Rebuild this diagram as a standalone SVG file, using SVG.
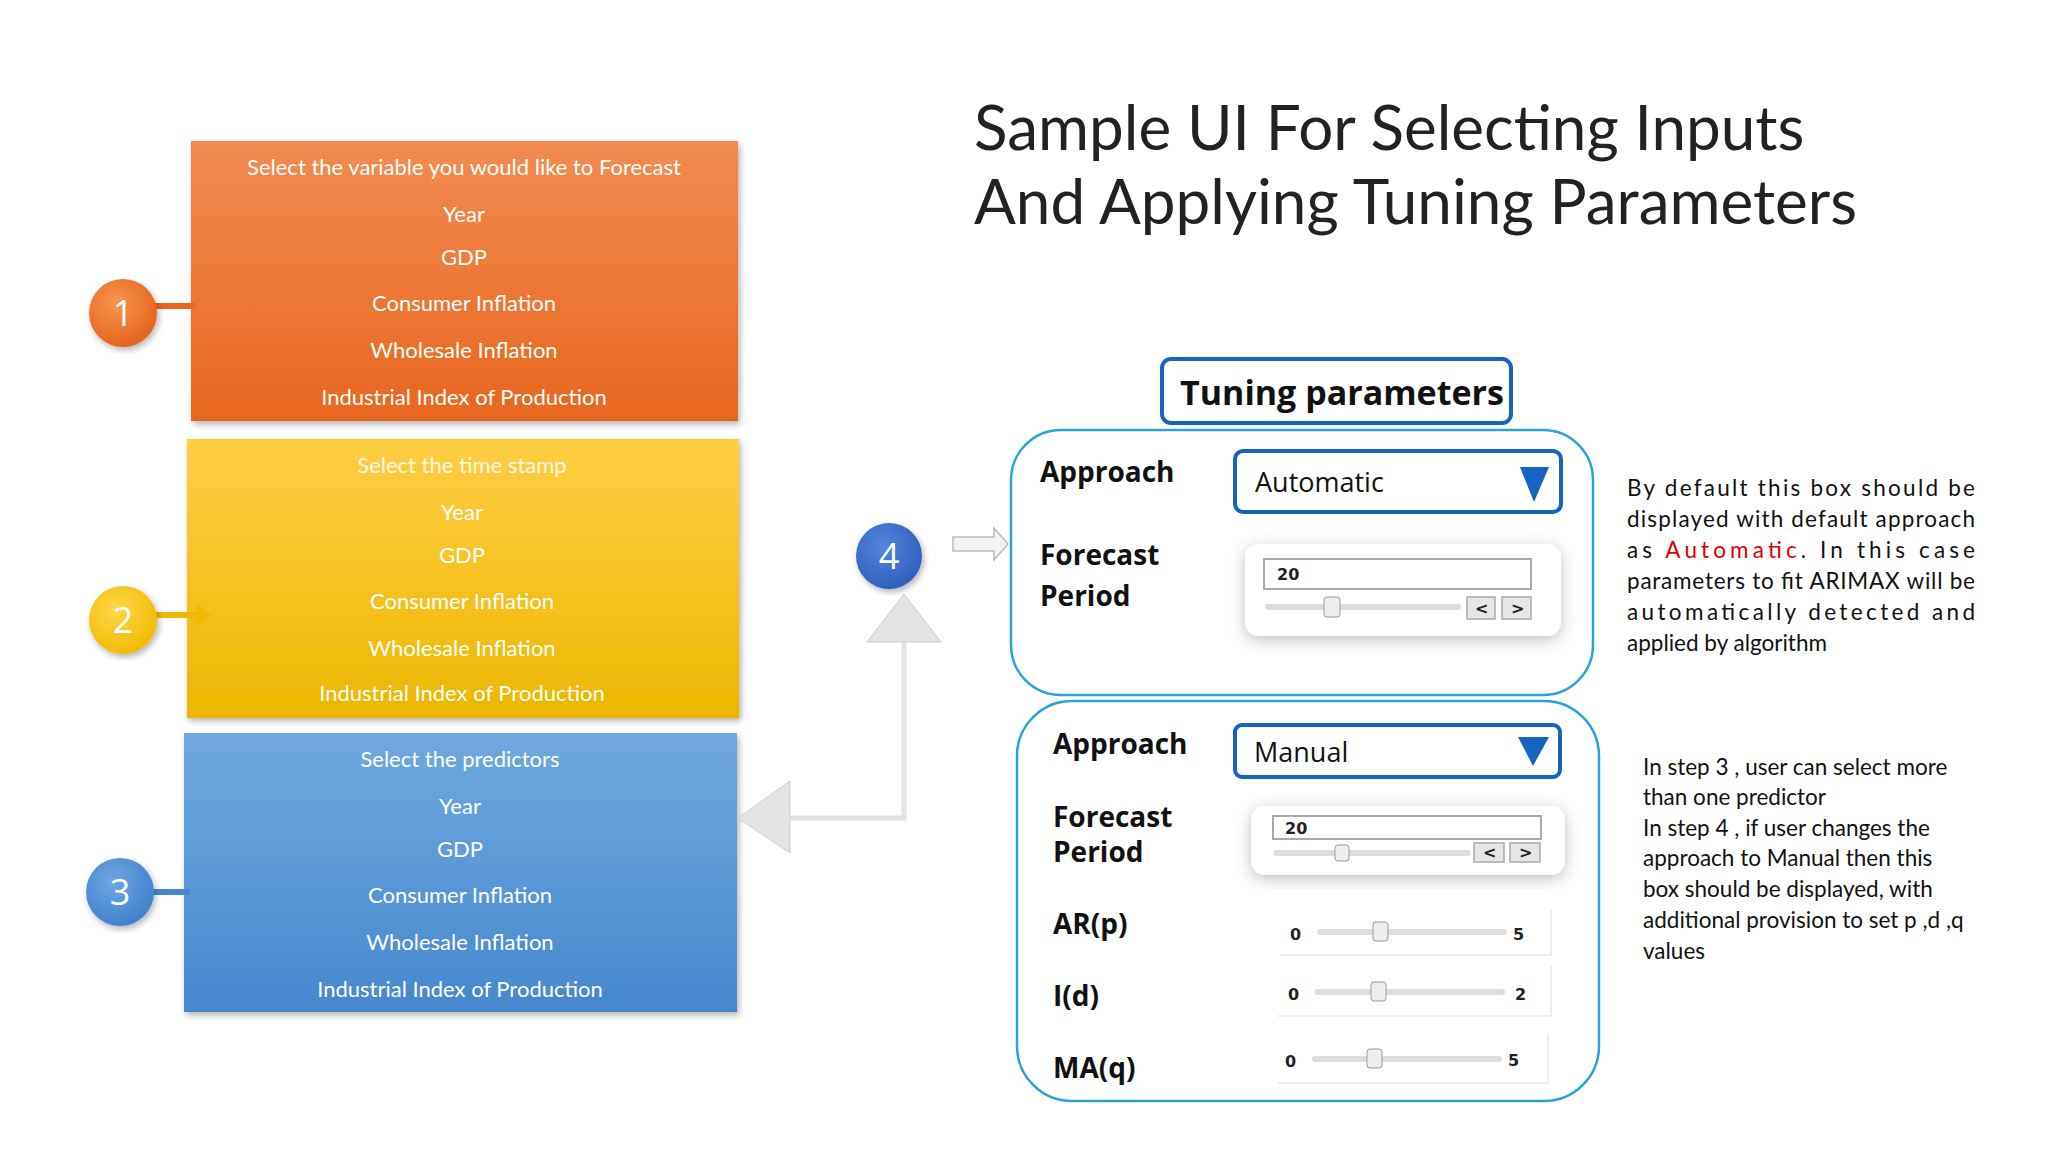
<svg xmlns="http://www.w3.org/2000/svg" width="2048" height="1152" viewBox="0 0 2048 1152">
<defs>
<linearGradient id="gO" x1="0" y1="0" x2="0" y2="1"><stop offset="0" stop-color="#F28C52"/><stop offset="1" stop-color="#E8661F"/></linearGradient>
<linearGradient id="gY" x1="0" y1="0" x2="0" y2="1"><stop offset="0" stop-color="#FFCE45"/><stop offset="1" stop-color="#ECB700"/></linearGradient>
<linearGradient id="gB" x1="0" y1="0" x2="0" y2="1"><stop offset="0" stop-color="#70A9DE"/><stop offset="1" stop-color="#4787CE"/></linearGradient>
<radialGradient id="cO" cx="0.4" cy="0.35" r="0.7"><stop offset="0" stop-color="#F8974F"/><stop offset="1" stop-color="#E2601A"/></radialGradient>
<radialGradient id="cY" cx="0.4" cy="0.35" r="0.7"><stop offset="0" stop-color="#FFD84A"/><stop offset="1" stop-color="#F0B800"/></radialGradient>
<radialGradient id="cB" cx="0.4" cy="0.35" r="0.7"><stop offset="0" stop-color="#6FA6DF"/><stop offset="1" stop-color="#3D7FCC"/></radialGradient>
<radialGradient id="cD" cx="0.4" cy="0.35" r="0.7"><stop offset="0" stop-color="#5585DA"/><stop offset="1" stop-color="#2D5DBC"/></radialGradient>
<filter id="sh" x="-10%" y="-10%" width="120%" height="120%"><feDropShadow dx="2" dy="3" stdDeviation="3" flood-color="#000" flood-opacity="0.3"/></filter>
<filter id="ws" x="-10%" y="-20%" width="120%" height="140%"><feDropShadow dx="0" dy="4" stdDeviation="8" flood-color="#000" flood-opacity="0.25"/></filter>
</defs>
<style>
.bt{font-family:Lato,"Open Sans",sans-serif;font-size:22px;fill:#fff;text-anchor:middle}
.num{font-family:"Open Sans",sans-serif;font-size:36px;fill:#fff;text-anchor:middle}
.lbl{font-family:"Open Sans",sans-serif;font-weight:bold;font-size:28px;fill:#111}
.dd{font-family:"Open Sans",sans-serif;font-size:27px;fill:#111}
.sm{font-family:"DejaVu Sans",sans-serif;font-weight:bold;font-size:16px;fill:#222}
.para{font-family:Lato,"Open Sans",sans-serif;font-size:22.5px;fill:#111}
.panel{fill:#fff;stroke:#29A3D8;stroke-width:2.5}
.ddb{fill:#fff;stroke:#1565C0;stroke-width:4}
.track{stroke:#ddd;stroke-width:6;stroke-linecap:round}
.tick{stroke:#bbb;stroke-width:1.5}
.btn{fill:#e6e6e6;stroke:#aaa;stroke-width:1.5}
.stub{stroke-width:6}
</style>
<text x="974" y="150" font-family="Lato,'Open Sans',sans-serif" font-size="62" fill="#222">Sample UI For Selecting Inputs</text>
<text x="974" y="224" font-family="Lato,'Open Sans',sans-serif" font-size="62" fill="#222">And Applying Tuning Parameters</text>

<g id="box1"><rect x="191" y="141" width="547" height="280" fill="url(#gO)" filter="url(#sh)"/>
<text class="bt" x="464" y="175">Select the variable you would like to Forecast</text>
<text class="bt" x="464" y="222">Year</text><text class="bt" x="464" y="265">GDP</text>
<text class="bt" x="464" y="311">Consumer Inflation</text><text class="bt" x="464" y="358">Wholesale Inflation</text>
<text class="bt" x="464" y="405">Industrial Index of Production</text></g>
<g id="box2"><rect x="187" y="439" width="552" height="279" fill="url(#gY)" filter="url(#sh)"/>
<text class="bt" x="462" y="473" fill-opacity="0.9">Select the time stamp</text>
<text class="bt" x="462" y="520">Year</text><text class="bt" x="462" y="563">GDP</text>
<text class="bt" x="462" y="609">Consumer Inflation</text><text class="bt" x="462" y="656">Wholesale Inflation</text>
<text class="bt" x="462" y="701">Industrial Index of Production</text></g>
<g id="box3"><rect x="184" y="733" width="553" height="279" fill="url(#gB)" filter="url(#sh)"/>
<text class="bt" x="460" y="767">Select the predictors</text>
<text class="bt" x="460" y="814">Year</text><text class="bt" x="460" y="857">GDP</text>
<text class="bt" x="460" y="903">Consumer Inflation</text><text class="bt" x="460" y="950">Wholesale Inflation</text>
<text class="bt" x="460" y="997">Industrial Index of Production</text></g>

<g id="connectors">
<line x1="150" y1="306" x2="196" y2="306" stroke="#E8661F" class="stub"/>
<path d="M150 615 H200 M196 606 L206 615 L196 624" stroke="#F0B800" class="stub" fill="none"/>
<line x1="148" y1="892" x2="190" y2="892" stroke="#4787CE" class="stub"/>
<path d="M790 818 H904 V640" fill="none" stroke="#e2e2e2" stroke-width="5"/>
<polygon points="738,818 790,781 790,853" fill="#e4e4e4" stroke="#ccc" stroke-width="1"/>
<polygon points="904,594 867,642 941,642" fill="#e4e4e4" stroke="#ccc" stroke-width="1"/>
<polygon points="953,537 994,537 994,528 1008,544 994,560 994,551 953,551" fill="#f2f2f2" stroke="#bbb" stroke-width="1.5"/>
</g>

<g id="n1"><circle cx="123" cy="313" r="34" fill="url(#cO)" filter="url(#sh)"/><text class="num" x="123" y="326">1</text></g>
<g id="n2"><circle cx="123" cy="620" r="34" fill="url(#cY)" filter="url(#sh)"/><text class="num" x="123" y="633" fill="#222">2</text></g>
<g id="n3"><circle cx="120" cy="892" r="34" fill="url(#cB)" filter="url(#sh)"/><text class="num" x="120" y="905">3</text></g>
<g id="n4"><circle cx="889" cy="556" r="33" fill="url(#cD)" filter="url(#sh)"/><text class="num" x="889" y="569">4</text></g>

<g id="title"><rect x="1162" y="359" width="349" height="64" rx="9" fill="#fff" stroke="#1565C0" stroke-width="4"/>
<text x="1180" y="405" font-family="'Open Sans',sans-serif" font-weight="bold" font-size="34" fill="#111">Tuning parameters</text></g>

<g id="panel1"><rect class="panel" x="1011" y="430" width="582" height="265" rx="50"/>
<text class="lbl" x="1040" y="482">Approach</text>
<rect class="ddb" x="1235" y="451" width="326" height="61" rx="8"/>
<text class="dd" x="1255" y="492">Automatic</text>
<polygon points="1520,467 1549,467 1534,502" fill="#1565C0"/>
<text class="lbl" x="1040" y="565">Forecast</text><text class="lbl" x="1040" y="606">Period</text>
<rect x="1245" y="544" width="316" height="92" rx="14" fill="#fff" filter="url(#ws)"/>
<rect x="1264" y="559" width="267" height="30" fill="#fff" stroke="#aaa" stroke-width="2"/>
<text class="sm" x="1277" y="580">20</text>
<line class="track" x1="1268" y1="607" x2="1458" y2="607"/>
<rect x="1324" y="597" width="16" height="20" rx="3" fill="#eee" stroke="#999"/>
<rect class="btn" x="1467" y="597" width="28" height="22"/><rect class="btn" x="1502" y="597" width="29" height="22"/>
<text class="sm" x="1475" y="614">&lt;</text><text class="sm" x="1511" y="614">&gt;</text>
</g>

<g id="panel2"><rect class="panel" x="1017" y="701" width="582" height="400" rx="55"/>
<text class="lbl" x="1053" y="754">Approach</text>
<rect class="ddb" x="1235" y="725" width="325" height="52" rx="7"/>
<text class="dd" x="1254" y="762">Manual</text>
<polygon points="1518,737 1549,737 1533,766" fill="#1565C0"/>
<text class="lbl" x="1053" y="827">Forecast</text><text class="lbl" x="1053" y="862">Period</text>
<rect x="1251" y="806" width="314" height="69" rx="14" fill="#fff" filter="url(#ws)"/>
<rect x="1273" y="816" width="268" height="23" fill="#fff" stroke="#aaa" stroke-width="2"/>
<text class="sm" x="1285" y="834" font-size="14">20</text>
<line class="track" x1="1276" y1="853" x2="1468" y2="853"/>
<rect x="1335" y="845" width="14" height="16" rx="3" fill="#eee" stroke="#999"/>
<rect class="btn" x="1474" y="843" width="30" height="19"/><rect class="btn" x="1510" y="843" width="30" height="19"/>
<text class="sm" x="1483" y="858" font-size="14">&lt;</text><text class="sm" x="1519" y="858" font-size="14">&gt;</text>
<text class="lbl" x="1053" y="934">AR(p)</text>
<text class="lbl" x="1053" y="1006">I(d)</text>
<text class="lbl" x="1053" y="1078">MA(q)</text>
<g><path d="M1551 910 V955 H1280" fill="none" stroke="#eee" stroke-width="2"/>
<text class="sm" x="1290" y="940">0</text><line class="track" x1="1320" y1="932" x2="1504" y2="932"/>
<rect x="1373" y="922" width="15" height="19" rx="3" fill="#eee" stroke="#999"/><text class="sm" x="1513" y="940">5</text></g>
<g><path d="M1551 966 V1016 H1278" fill="none" stroke="#eee" stroke-width="2"/>
<text class="sm" x="1288" y="1000">0</text><line class="track" x1="1318" y1="992" x2="1502" y2="992"/>
<rect x="1371" y="982" width="15" height="19" rx="3" fill="#eee" stroke="#999"/><text class="sm" x="1515" y="1000">2</text></g>
<g><path d="M1548 1034 V1083 H1278" fill="none" stroke="#eee" stroke-width="2"/>
<text class="sm" x="1285" y="1067">0</text><line class="track" x1="1315" y1="1059" x2="1499" y2="1059"/>
<rect x="1367" y="1049" width="15" height="19" rx="3" fill="#eee" stroke="#999"/><text class="sm" x="1508" y="1066">5</text></g>
</g>

<g id="note1">
<text class="para" x="1627" y="496" textLength="348" lengthAdjust="spacing">By default this box should be</text>
<text class="para" x="1627" y="527" textLength="348" lengthAdjust="spacing">displayed with default approach</text>
<text class="para" x="1627" y="558" textLength="348" lengthAdjust="spacing">as <tspan fill="#E00000">Automatic</tspan>. In this case</text>
<text class="para" x="1627" y="589" textLength="348" lengthAdjust="spacing">parameters to fit ARIMAX will be</text>
<text class="para" x="1627" y="620" textLength="348" lengthAdjust="spacing">automatically detected and</text>
<text class="para" x="1627" y="651">applied by algorithm</text>
</g>
<g id="note2">
<text class="para" x="1643" y="775">In step 3 , user can select more</text>
<text class="para" x="1643" y="805">than one predictor</text>
<text class="para" x="1643" y="836">In step 4 , if user changes the</text>
<text class="para" x="1643" y="866">approach to Manual  then this</text>
<text class="para" x="1643" y="897">box should be displayed, with</text>
<text class="para" x="1643" y="928">additional provision to set p ,d ,q</text>
<text class="para" x="1643" y="959">values</text>
</g>
</svg>
